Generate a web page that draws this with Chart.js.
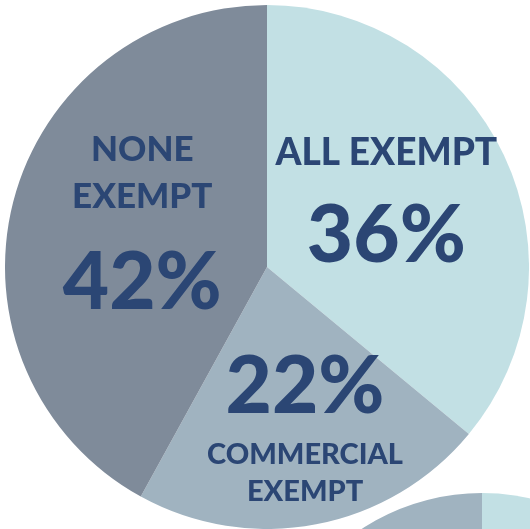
<!DOCTYPE html>
<html>
<head>
<meta charset="utf-8">
<script src="https://cdn.jsdelivr.net/npm/chart.js@4/dist/chart.umd.min.js"></script>
<style>
  html, body { margin: 0; padding: 0; background: #fff; overflow: hidden; width: 530px; height: 529px; }
  .box { position: absolute; }
  #hlavni-box { left: 5px; top: 5px; width: 524px; height: 524px; }
  #druhy-box { left: 262px; top: 493px; width: 440px; height: 440px; }
</style>
</head>
<body>
<div class="box" id="hlavni-box"><canvas id="hlavni-graf"></canvas></div>
<div class="box" id="druhy-box"><canvas id="druhy-graf"></canvas></div>
<script>
// --- DATA ---
const kategorie = ['ALL EXEMPT', 'COMMERCIAL EXEMPT', 'NONE EXEMPT'];
const podily = [36, 22, 42];
const barvy = ['#c2e0e4', '#a0b3c0', '#7f8b9a'];

// popisky: kotva procent (úhel od 12 h po směru, podíl poloměru), řádky s posunem od kotvy
const popisky = [
  { uhel: 75.7, r: 0.47, radky: [['ALL EXEMPT', -84]] },
  { uhel: 162.4, r: 0.48, radky: [['COMMERCIAL', 68], ['EXEMPT', 105]] },
  { uhel: 262.7, r: 0.48, radky: [['NONE', -133], ['EXEMPT', -86]] }
];
const velikostRadku = [37, 29, 35];

// druhý (spodní) koláč – vidět je jen jeho horní okraj
const druhePodily = [38, 30, 32];
const druheBarvy = ['#c2e0e4', '#7f8b9a', '#a0b3c0'];

const barvaTextu = '#2b4674';
const pismo = 'Lato, "DejaVu Sans", sans-serif';

// --- PLUGIN PRO POPISKY ---
const popiskyPlugin = {
  id: 'popiskyVKolaci',
  afterDatasetsDraw(chart) {
    const ctx = chart.ctx;
    const oblouk = chart.getDatasetMeta(0).data[0];
    const cx = oblouk.x, cy = oblouk.y, R = oblouk.outerRadius;
    ctx.save();
    ctx.fillStyle = barvaTextu;
    ctx.textAlign = 'center';
    ctx.textBaseline = 'middle';
    popisky.forEach((p, i) => {
      const a = p.uhel * Math.PI / 180;
      const x = cx + Math.sin(a) * R * p.r;
      const y = cy - Math.cos(a) * R * p.r;
      ctx.font = `900 80px ${pismo}`;
      ctx.fillText(podily[i] + '%', x, y);
      ctx.font = `900 ${velikostRadku[i]}px ${pismo}`;
      p.radky.forEach(([text, dy]) => ctx.fillText(text, x, y + dy));
    });
    ctx.restore();
  }
};

// --- GRAFY ---
const hlavniGraf = new Chart(document.getElementById('hlavni-graf'), {
  type: 'pie',
  data: {
    labels: kategorie,
    datasets: [{ data: podily, backgroundColor: barvy, borderWidth: 0 }]
  },
  options: {
    responsive: true,
    maintainAspectRatio: false,
    animation: false,
    layout: { padding: 0 },
    plugins: { legend: { display: false }, tooltip: { enabled: false } }
  },
  plugins: [popiskyPlugin]
});

const druhyGraf = new Chart(document.getElementById('druhy-graf'), {
  type: 'pie',
  data: {
    labels: ['A', 'B', 'C'],
    datasets: [{ data: druhePodily, backgroundColor: druheBarvy, borderWidth: 0 }]
  },
  options: {
    responsive: true,
    maintainAspectRatio: false,
    animation: false,
    plugins: { legend: { display: false }, tooltip: { enabled: false } }
  }
});
</script>
</body>
</html>
